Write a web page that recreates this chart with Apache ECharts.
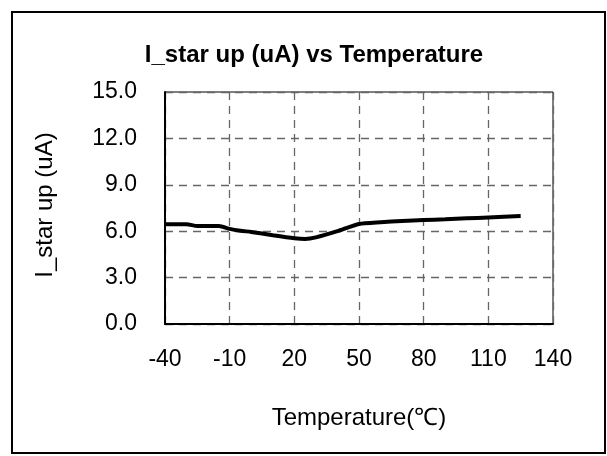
<!DOCTYPE html>
<html>
<head>
<meta charset="utf-8">
<script src="https://cdn.jsdelivr.net/npm/echarts@6/dist/echarts.min.js"></script>
<style>html,body{margin:0;padding:0;background:#fff;}#c{width:607px;height:456px;}</style>
</head>
<body>
<div id="c"></div>
<script>
var titleText = 'I_star up (uA) vs Temperature';
var xName = 'Temperature(\u2103)';
var yName = 'I_star up (uA)';
var temps = [-40, -30, -25, -15, -10, -5, 0, 10, 20, 25, 30, 40, 50, 60, 70, 80, 90, 100, 110, 125];
var values = [6.45, 6.45, 6.33, 6.33, 6.15, 6.03, 5.95, 5.74, 5.55, 5.5, 5.6, 6.0, 6.47, 6.58, 6.66, 6.72, 6.77, 6.83, 6.89, 6.98];
var xTicks = { min: -40, max: 140, interval: 30 };
var yTicks = { min: 0, max: 15, interval: 3 };

var FONT = '"Liberation Sans", Arial, sans-serif';
var chart = echarts.init(document.getElementById('c'), null, { renderer: 'canvas' });
var data = temps.map(function (t, i) { return [t, values[i]]; });
chart.setOption({
  animation: false,
  backgroundColor: '#fff',
  title: {
    text: titleText,
    left: 309, top: 38, textAlign: 'center',
    textStyle: { fontFamily: FONT, fontSize: 24, fontWeight: 'bold', color: '#000' }
  },
  grid: {
    left: 165, right: 54, top: 92, bottom: 132,
    show: true, borderColor: '#000', borderWidth: 1, containLabel: false
  },
  xAxis: {
    type: 'value', min: xTicks.min, max: xTicks.max, interval: xTicks.interval,
    axisLine: { show: true, onZero: false, lineStyle: { color: '#000', width: 2 } },
    axisTick: { show: false },
    axisLabel: { margin: 24, color: '#000', fontFamily: FONT, fontSize: 23 },
    splitLine: { show: true, lineStyle: { color: '#666', type: [8, 6], width: 1.3 } }
  },
  yAxis: {
    type: 'value', min: yTicks.min, max: yTicks.max, interval: yTicks.interval,
    axisLine: { show: true, onZero: false, lineStyle: { color: '#000', width: 2 } },
    axisTick: { show: false },
    axisLabel: { margin: 28, color: '#000', fontFamily: FONT, fontSize: 23,
      formatter: function (v) { return v.toFixed(1); } },
    splitLine: { show: true, lineStyle: { color: '#666', type: [8, 6], width: 1.3 } }
  },
  graphic: [
    { type: 'rect', shape: { x: 12, y: 12, width: 593, height: 441 },
      style: { fill: 'none', stroke: '#000', lineWidth: 2 }, z: 100 },
    { type: 'text', x: 359, y: 418,
      style: { text: xName, align: 'center', verticalAlign: 'middle', font: '24px ' + FONT, fill: '#000' } },
    { type: 'text', x: 45, y: 205, rotation: Math.PI / 2,
      style: { text: yName, align: 'center', verticalAlign: 'middle', font: '24px ' + FONT, fill: '#000' } }
  ],
  series: [{
    type: 'line', data: data, showSymbol: false, smooth: 0.2,
    lineStyle: { color: '#000', width: 4 }
  }]
});
</script>
</body>
</html>
